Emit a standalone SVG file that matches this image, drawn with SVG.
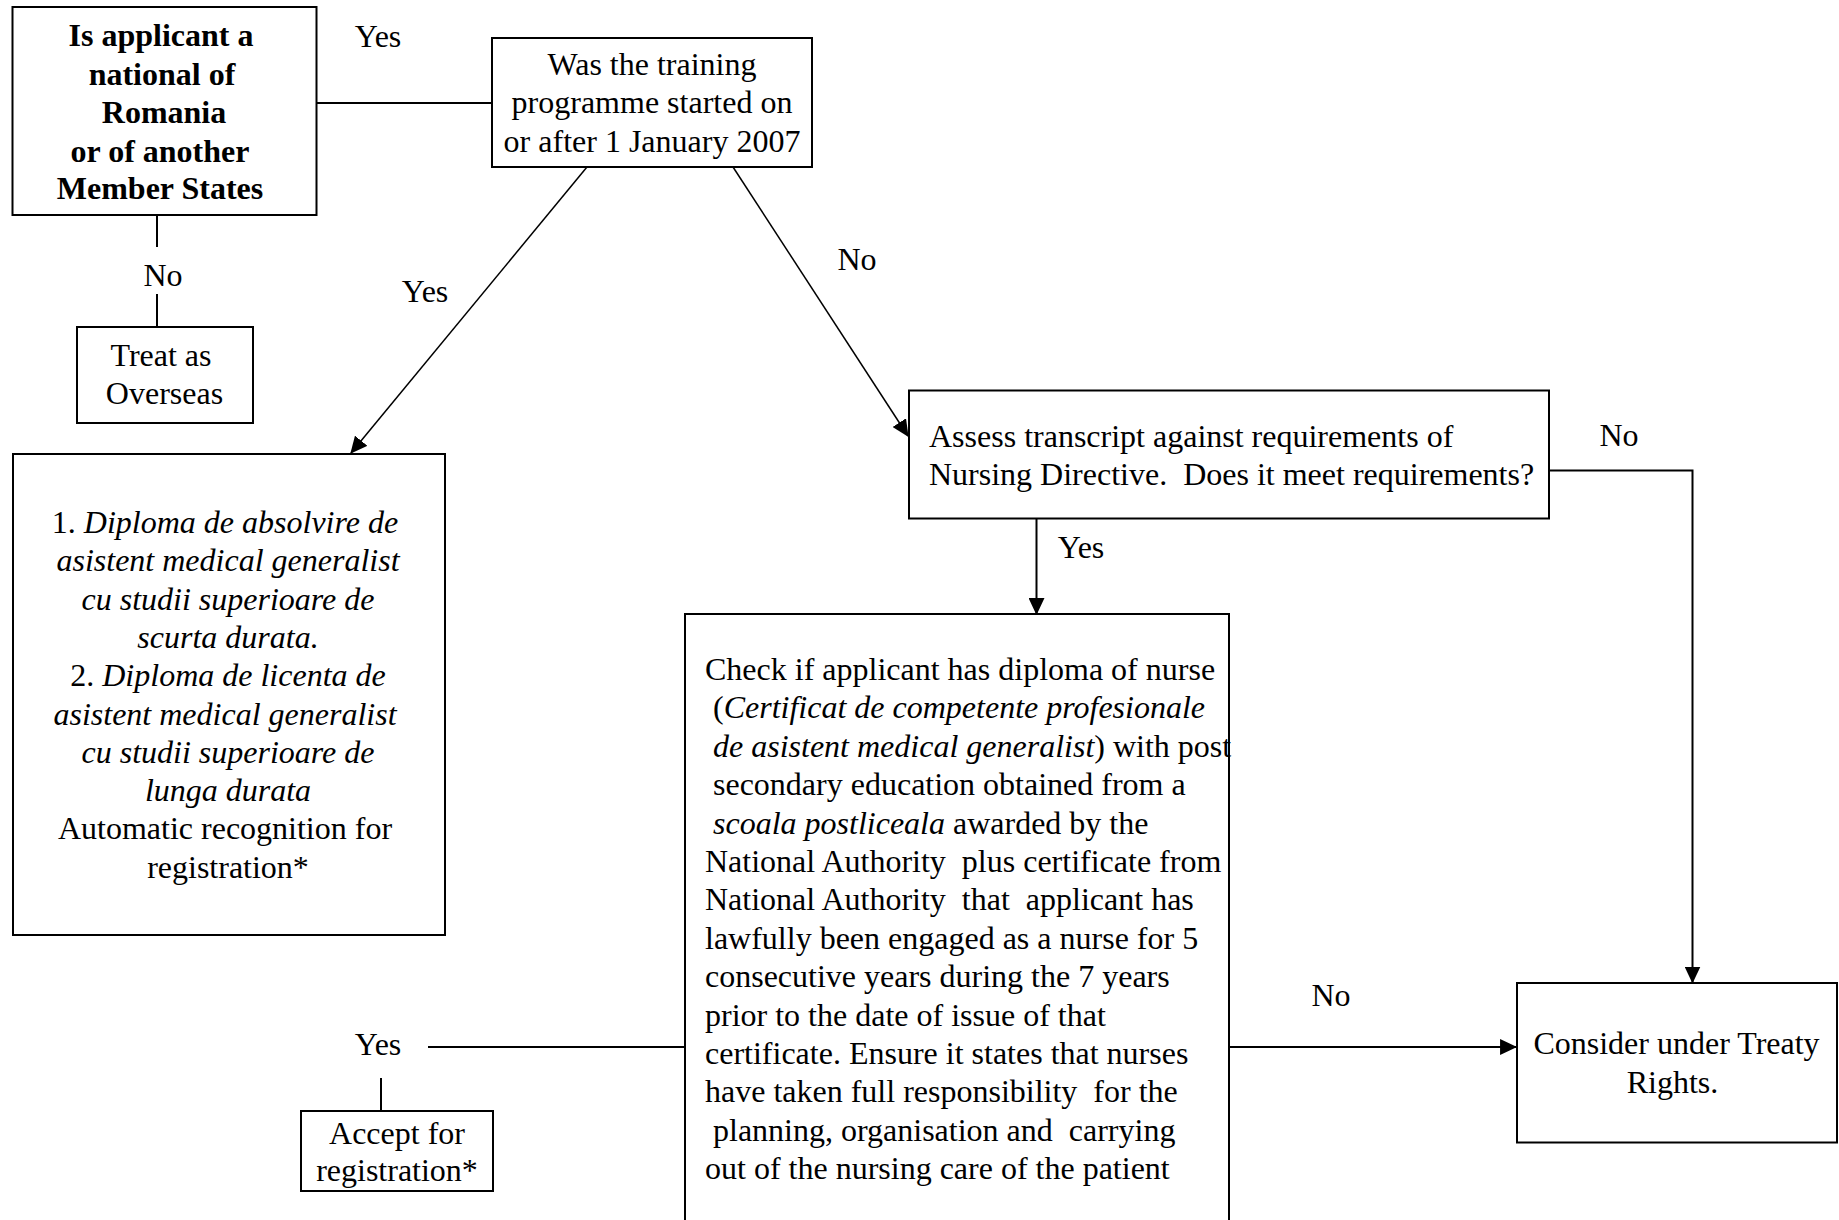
<svg xmlns="http://www.w3.org/2000/svg" width="1839" height="1220" viewBox="0 0 1839 1220">
<style>
  text { font-family: "Liberation Serif", "Times New Roman", serif; font-size: 32px; fill: #000; white-space: pre; }
  .b { font-weight: bold; }
  .i { font-style: italic; }
  .m { text-anchor: middle; }
  .box { fill: #fff; stroke: #000; stroke-width: 2; }
  .ln { fill: none; stroke: #000; stroke-width: 2; }
  .dg { fill: none; stroke: #000; stroke-width: 1.5; }
</style>
<defs>
  <marker id="arr" markerUnits="userSpaceOnUse" markerWidth="17" markerHeight="16" viewBox="0 0 16 15" refX="15" refY="7.5" orient="auto">
    <path d="M0,0 L16,7.5 L0,15 z" fill="#000"/>
  </marker>
</defs>
<rect width="1839" height="1220" fill="#fff"/>

<g id="connectors">
  <line class="ln" x1="317" y1="103" x2="492" y2="103"/>
  <line class="ln" x1="157" y1="215" x2="157" y2="247"/>
  <line class="ln" x1="157" y1="294" x2="157" y2="327"/>
  <line class="dg" x1="587" y1="167" x2="351" y2="453" marker-end="url(#arr)"/>
  <line class="dg" x1="733" y1="167" x2="908" y2="436" marker-end="url(#arr)"/>
  <line class="ln" x1="1036.5" y1="519" x2="1036.5" y2="614" marker-end="url(#arr)"/>
  <polyline class="ln" points="1549,470.5 1692.5,470.5 1692.5,982.5" marker-end="url(#arr)"/>
  <line class="ln" x1="1229" y1="1047" x2="1516" y2="1047" marker-end="url(#arr)"/>
  <line class="ln" x1="685" y1="1047" x2="428" y2="1047"/>
  <line class="ln" x1="381" y1="1078" x2="381" y2="1111"/>
  <text class="m" x="378" y="47">Yes</text>
  <text class="m" x="163" y="286">No</text>
  <text class="m" x="425" y="302">Yes</text>
  <text class="m" x="857" y="270">No</text>
  <text class="m" x="1619" y="446">No</text>
  <text class="m" x="1081" y="558">Yes</text>
  <text class="m" x="378" y="1055">Yes</text>
  <text class="m" x="1331" y="1006">No</text>
</g>

<g id="node-national">
  <rect class="box" x="12.5" y="7" width="304" height="208"/>
  <text class="b m" x="161" y="46">Is applicant a</text>
  <text class="b m" x="162" y="84.5">national of</text>
  <text class="b m" x="164" y="123">Romania</text>
  <text class="b m" x="160" y="161.5">or of another</text>
  <text class="b m" x="160" y="199">Member States</text>
</g>

<g id="node-training">
  <rect class="box" x="492" y="38" width="320" height="129"/>
  <text class="m" x="652" y="75">Was the training</text>
  <text class="m" x="652" y="113">programme started on</text>
  <text class="m" x="652" y="151.5">or after 1 January 2007</text>
</g>

<g id="node-overseas">
  <rect class="box" x="77" y="327" width="176" height="96"/>
  <text class="m" x="161" y="366">Treat as</text>
  <text class="m" x="164.5" y="404">Overseas</text>
</g>

<g id="node-diploma">
  <rect class="box" x="13" y="454" width="432" height="481"/>
  <text class="m" x="225" y="533">1. <tspan class="i">Diploma de absolvire de</tspan></text>
  <text class="m i" x="228" y="571.3">asistent medical generalist</text>
  <text class="m i" x="228" y="609.6">cu studii superioare de</text>
  <text class="m i" x="228" y="647.9">scurta durata.</text>
  <text class="m" x="228" y="686.2">2. <tspan class="i">Diploma de licenta de</tspan></text>
  <text class="m i" x="225" y="724.5">asistent medical generalist</text>
  <text class="m i" x="228" y="762.8">cu studii superioare de</text>
  <text class="m i" x="228" y="801.1">lunga durata</text>
  <text class="m" x="225" y="839.4">Automatic recognition for</text>
  <text class="m" x="228" y="877.7">registration*</text>
</g>

<g id="node-assess">
  <rect class="box" x="909" y="390.5" width="640" height="128"/>
  <text x="929" y="446.5">Assess transcript against requirements of</text>
  <text x="929" y="485">Nursing Directive.  Does it meet requirements?</text>
</g>

<g id="node-check">
  <rect class="box" x="685" y="614" width="544" height="630"/>
  <text x="705" y="680">Check if applicant has diploma of nurse</text>
  <text x="705" y="718.4"> (<tspan class="i">Certificat de competente profesionale</tspan></text>
  <text x="705" y="756.8"> <tspan class="i">de asistent medical generalist</tspan>) with post</text>
  <text x="705" y="795.2"> secondary education obtained from a</text>
  <text x="705" y="833.6"> <tspan class="i">scoala postliceala</tspan> awarded by the</text>
  <text x="705" y="872">National Authority  plus certificate from</text>
  <text x="705" y="910.4">National Authority  that  applicant has</text>
  <text x="705" y="948.8">lawfully been engaged as a nurse for 5</text>
  <text x="705" y="987.2">consecutive years during the 7 years</text>
  <text x="705" y="1025.6">prior to the date of issue of that</text>
  <text x="705" y="1064">certificate. Ensure it states that nurses</text>
  <text x="705" y="1102.4">have taken full responsibility  for the</text>
  <text x="705" y="1140.8"> planning, organisation and  carrying</text>
  <text x="705" y="1179.2">out of the nursing care of the patient</text>
</g>

<g id="node-accept">
  <rect class="box" x="301" y="1111" width="192" height="80"/>
  <text class="m" x="397" y="1144">Accept for</text>
  <text class="m" x="397" y="1180.5">registration*</text>
</g>

<g id="node-treaty">
  <rect class="box" x="1517" y="983" width="320" height="159.5"/>
  <text class="m" x="1676.5" y="1054">Consider under Treaty</text>
  <text class="m" x="1672.5" y="1093">Rights.</text>
</g>
</svg>
